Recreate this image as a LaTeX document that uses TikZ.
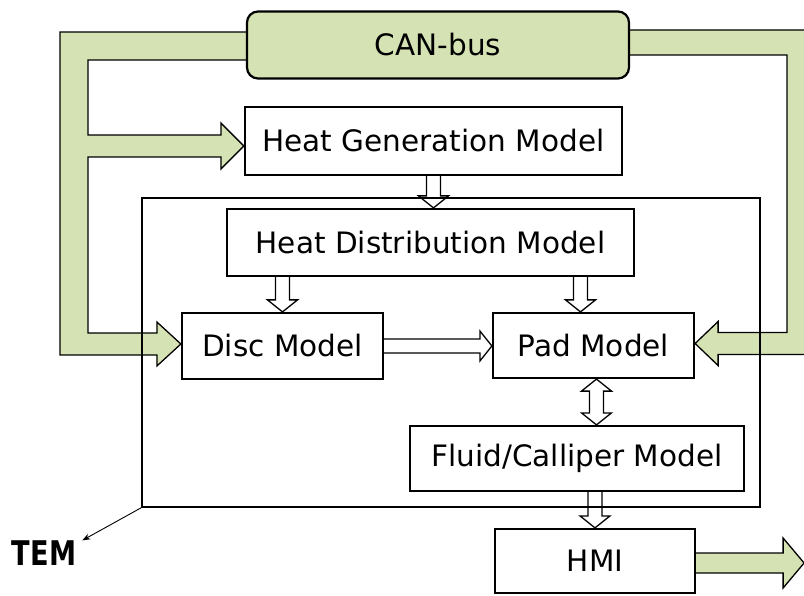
\documentclass[tikz,border=0pt]{standalone}
\usepackage{fontspec}
\setmainfont{DejaVu Sans}
\usetikzlibrary{calc,arrows.meta}
\definecolor{busgreen}{RGB}{213,226,179}
\pgfdeclarelayer{back}
\pgfsetlayers{back,main}

\tikzset{
  model/.style={draw=black, line width=2.2pt, fill=white, inner sep=0pt,
    font=\fontsize{29.5}{33}\selectfont},
  busbox/.style={model, fill=busgreen, rounded corners=11pt},
  band/.style={draw=black, line width=1.3pt, fill=busgreen, line join=miter},
  hollow/.style={draw=black, line width=1.3pt, line join=miter},
  boundary/.style={draw=black, line width=1.4pt, inner sep=0pt},
  temlabel/.style={inner sep=0pt, font=\bfseries\fontsize{34}{38}\selectfont},
}

% hollow (outlined) block arrows between two points on the same vertical/horizontal line
\newcommand\hollowdown[2]{%
  \draw[hollow] let \p1=(#1), \p2=(#2) in
    (\x1-7pt,\y1) -- (\x1-7pt,\y2+12pt) -- (\x1-15pt,\y2+12pt) -- (\x1,\y2)
    -- (\x1+15pt,\y2+12pt) -- (\x1+7pt,\y2+12pt) -- (\x1+7pt,\y1);}
\newcommand\hollowright[2]{%
  \draw[hollow] let \p1=(#1), \p2=(#2) in
    (\x1,\y1+7pt) -- (\x2-12pt,\y1+7pt) -- (\x2-12pt,\y1+15pt) -- (\x2,\y1)
    -- (\x2-12pt,\y1-15pt) -- (\x2-12pt,\y1-7pt) -- (\x1,\y1-7pt);}
\newcommand\hollowupdown[2]{%
  \draw[hollow] let \p1=(#1), \p2=(#2) in
    (\x1,\y1) -- (\x1+15pt,\y1-12pt) -- (\x1+7pt,\y1-12pt) -- (\x1+7pt,\y2+12pt)
    -- (\x1+15pt,\y2+12pt) -- (\x1,\y2) -- (\x1-15pt,\y2+12pt) -- (\x1-7pt,\y2+12pt)
    -- (\x1-7pt,\y1-12pt) -- (\x1-15pt,\y1-12pt) -- cycle;}

\begin{document}
\begin{tikzpicture}[x=1pt,y=-1pt]
\useasboundingbox (0,0) rectangle (804,596);

% bus and model blocks
\node[busbox, minimum width=382pt, minimum height=67pt] (can) at (438,45) {CAN-bus};
\node[model, minimum width=377pt, minimum height=68pt] (gen) at (433.5,141) {Heat Generation Model};
\node[boundary, minimum width=618pt, minimum height=309pt] (frame) at (451,352.5) {};
\node[model, minimum width=407pt, minimum height=67pt] (dist) at (430.5,242.5) {Heat Distribution Model};
\node[model, minimum width=201pt, minimum height=66pt] (disc) at (282.5,346) {Disc Model};
\node[model, minimum width=201pt, minimum height=65pt] (pad) at (593.5,345.5) {Pad Model};
\node[model, minimum width=334pt, minimum height=65pt] (fluid) at (577,458.5) {Fluid/Calliper Model};
\node[model, minimum width=200pt, minimum height=64pt] (hmi) at (595,561) {HMI};
\node[temlabel] (tem) at (44,553) {\scalebox{0.8}[1]{TEM}};

% tips of the bus arrows
\coordinate (gtip) at ($(gen.west)+(0,5)$);
\coordinate (dtip) at ($(disc.west)+(0,-2)$);
\coordinate (ptip) at ($(pad.east)+(0,-2)$);
\coordinate (htip) at ($(hmi.east)+(108,2)$);
\coordinate (padin) at ($(pad.north)+(-13,0)$);
\coordinate (padout) at ($(pad.south)+(3,0)$);

\begin{pgfonlayer}{back}
  % left bus branch: to heat generation and disc models
  \draw[band] (270,32) -- (60,32) -- (60,355)
    -- ($(dtip)+(-24,11)$) -- ($(dtip)+(-24,22)$) -- (dtip)
    -- ($(dtip)+(-24,-22)$) -- ($(dtip)+(-24,-11)$) -- (88,333) -- (88,157)
    -- ($(gtip)+(-23,11)$) -- ($(gtip)+(-23,23)$) -- (gtip)
    -- ($(gtip)+(-23,-23)$) -- ($(gtip)+(-23,-11)$) -- (88,135) -- (88,60) -- (270,60);
  % right bus branch: to pad model
  \draw[band] (600,30) -- (815,30) -- (815,354.5)
    -- ($(ptip)+(23,11)$) -- ($(ptip)+(23,22)$) -- (ptip)
    -- ($(ptip)+(23,-22)$) -- ($(ptip)+(23,-11)$) -- (787,332.5) -- (787,55) -- (600,55);
  % HMI output
  \draw[band] ($(htip)+(-108,-10)$) -- ($(htip)+(-21,-10)$) -- ($(htip)+(-21,-25)$)
    -- (htip) -- ($(htip)+(-21,25)$) -- ($(htip)+(-21,10)$) -- ($(htip)+(-108,10)$);
\end{pgfonlayer}

% model-to-model flows
\hollowdown{gen.south}{gen.south |- dist.north}
\hollowdown{dist.south -| disc.north}{disc.north}
\hollowdown{dist.south -| padin}{padin}
\hollowright{disc.east}{disc.east -| pad.west}
\hollowupdown{padout}{padout |- fluid.north}
\hollowdown{hmi.north |- fluid.south}{hmi.north}

% thermal model boundary label
\draw[line width=0.9pt, -{Stealth[length=8pt,width=6pt]}] (frame.south west) -- ($(tem.north east)+(6,0)$);
\end{tikzpicture}
\end{document}
